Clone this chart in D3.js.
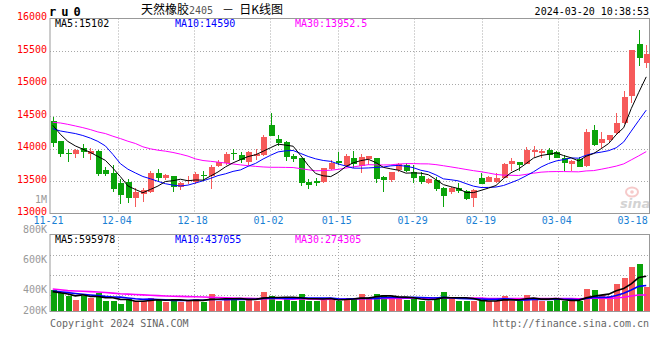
<!DOCTYPE html>
<html>
<head>
<meta charset="utf-8">
<script src="https://cdn.jsdelivr.net/npm/d3@7"></script>
<style>
  body { margin: 0; background: #fff; }
  svg text { font-family: "DejaVu Sans Mono", monospace; font-size: 10px; }
</style>
</head>
<body>
<svg id="chart" width="660" height="360"></svg>
<script>
// trading days shown, 11-21 .. 03-20
var dates = ["11-21","11-22","11-23","11-24","11-27","11-28","11-29","11-30","12-01",
  "12-04","12-05","12-06","12-07","12-08","12-11","12-12","12-13","12-14","12-15",
  "12-18","12-19","12-20","12-21","12-22","12-25","12-26","12-27","12-28","12-29",
  "01-02","01-03","01-04","01-05","01-08","01-09","01-10","01-11","01-12",
  "01-15","01-16","01-17","01-18","01-19","01-22","01-23","01-24","01-25","01-26",
  "01-29","01-30","01-31","02-01","02-02","02-05","02-06","02-07","02-08",
  "02-19","02-20","02-21","02-22","02-23","02-26","02-27","02-28","02-29","03-01",
  "03-04","03-05","03-06","03-07","03-08","03-11","03-12","03-13","03-14","03-15",
  "03-18","03-19","03-20"];

var openP = [14418,14112,13934,13923,14005,13913,13964,13668,13622,13470,13490,13245,13301,13337,13628,13551,13577,13403,13495,13490,
  13592,13577,13735,13770,13934,13893,13786,13888,13898,14357,14153,14102,13883,13847,13490,13500,13480,13684,13806,13735,
  13857,13735,13842,13847,13556,13515,13668,13740,13633,13577,13475,13515,13388,13327,13388,13347,13245,13541,13490,13480,
  13551,13756,13792,13761,13946,13936,13977,13951,13858,13761,13833,13730,14285,14080,14131,14233,14397,14808,15608,15320];
var highP = [14485,14120,14000,14000,14066,14010,13970,13719,13740,13526,13526,13388,13388,13658,13689,13607,13580,13490,13577,13643,
  13658,13740,13821,13949,14000,13949,13964,13990,14204,14546,14214,14112,13923,13857,13526,13541,13704,13821,13949,13913,
  13959,13923,13883,13857,13577,13643,13781,13770,13745,13643,13541,13567,13413,13413,13464,13362,13378,13628,13577,13617,
  13780,13858,13800,14028,14038,14000,14002,13960,13900,13823,13874,14295,14361,14259,14208,14540,14890,15515,15823,15592];
var lowP = [14025,13872,13796,13857,13847,13821,13582,13577,13332,13143,13158,13107,13184,13322,13485,13515,13337,13362,13454,13454,
  13505,13373,13709,13745,13821,13780,13745,13821,13888,14194,14041,13806,13796,13429,13373,13424,13464,13668,13745,13719,
  13694,13628,13745,13464,13337,13490,13633,13643,13464,13454,13454,13352,13107,13301,13322,13209,13107,13454,13480,13464,
  13540,13653,13660,13761,13874,13850,13823,13848,13653,13653,13720,13720,14038,14002,14100,14208,14382,14705,15269,15245];
var closeP = [14087,13918,13908,13974,13939,13959,13612,13607,13378,13286,13235,13337,13362,13628,13546,13587,13403,13470,13515,13607,
  13572,13714,13786,13913,13913,13821,13949,13923,14178,14194,14092,13872,13837,13464,13439,13464,13694,13781,13781,13883,
  13760,13862,13883,13531,13515,13643,13760,13658,13551,13490,13526,13378,13276,13388,13352,13225,13362,13454,13561,13551,
  13761,13807,13741,13977,13977,13961,13900,13848,13771,13807,13720,14259,14054,14146,14208,14397,14797,15515,15397,15454];

// volume, thousands of lots
var volume = [361,315,263,189,258,218,315,172,172,120,206,172,172,229,189,160,212,160,172,212,
  160,292,172,218,212,172,224,172,327,258,172,246,172,292,172,172,224,206,172,206,
  224,298,206,292,275,229,206,189,229,172,172,246,327,224,172,172,172,172,172,172,
  263,172,172,275,229,172,172,224,172,172,172,384,361,270,258,464,573,762,808,418];

var ma5 = [14357,14220,14110,14040,13990,13940,13878,13818,13699,13568,13424,13369,13320,13370,13422,13492,13505,13527,13504,13516,
  13513,13576,13639,13718,13780,13829,13876,13904,13957,14013,14067,14052,14035,13892,13741,13615,13580,13568,13632,13721,
  13780,13813,13834,13784,13710,13687,13666,13621,13625,13620,13597,13521,13444,13412,13384,13324,13321,13356,13391,13431,
  13538,13627,13684,13767,13853,13893,13911,13933,13891,13857,13809,13881,13922,13997,14077,14213,14320,14613,14863,15102];
var ma10 = [14306,14270,14250,14230,14200,14160,14110,14040,13910,13767,13682,13624,13569,13534,13495,13458,13437,13423,13437,13469,
  13503,13540,13583,13611,13648,13671,13726,13771,13838,13896,13948,13964,13969,13924,13877,13841,13816,13802,13762,13731,
  13698,13697,13701,13708,13715,13733,13740,13728,13705,13665,13642,13594,13533,13519,13502,13460,13421,13400,13401,13407,
  13431,13474,13520,13579,13642,13715,13769,13808,13829,13855,13851,13896,13927,13944,13967,14011,14101,14267,14430,14590];
var ma30 = [14403,14393,14372,14347,14321,14291,14255,14230,14189,14153,14112,14077,14026,13995,13974,13959,13939,13913,13883,13840,
  13815,13803,13790,13776,13762,13748,13735,13725,13716,13711,13711,13709,13707,13690,13673,13657,13660,13666,13679,13699,
  13717,13734,13751,13748,13747,13749,13761,13767,13768,13764,13763,13752,13735,13717,13698,13678,13659,13643,13623,13601,
  13590,13588,13585,13602,13620,13636,13643,13645,13645,13643,13641,13655,13660,13681,13704,13729,13763,13825,13887,13952];

var volMa5 = [332,312,292,260,277,249,249,230,227,199,197,168,168,180,194,184,192,190,179,183,
  183,199,202,211,211,213,200,200,221,231,231,235,235,228,211,211,206,213,189,196,
  206,221,221,245,259,260,242,238,226,205,194,202,229,228,228,228,213,182,172,172,
  190,190,190,211,222,204,204,214,194,182,182,225,252,272,289,347,385,465,573,596];
var volMa10 = [344,330,315,300,287,275,264,250,240,238,223,209,199,203,197,191,180,179,179,188,
  184,196,196,195,197,198,199,201,216,221,222,217,217,225,221,221,221,224,209,203,
  209,214,217,217,228,233,231,230,235,232,227,222,234,227,217,211,208,206,200,200,
  209,202,186,191,197,197,197,202,202,202,193,214,233,233,236,265,305,359,422,437];
var volMa30 = [378,364,350,344,338,332,327,317,307,297,290,283,276,269,263,258,254,250,247,243,
  239,235,231,226,222,219,216,214,213,216,210,207,204,208,205,203,200,202,202,204,
  205,209,210,212,215,218,217,218,220,219,219,218,223,223,222,222,220,220,215,212,
  215,213,213,212,214,214,212,213,213,212,210,213,218,218,217,225,237,256,275,274];

var priceTicks = [13000, 13500, 14000, 14500, 15000, 15500, 16000];
var dateTicks = ["11-21","12-04","12-18","01-02","01-15","01-29","02-19","03-04","03-18"];
var volTicks = [1000, 800, 600, 400, 200];
var volTickText = ["1M", "800K", "600K", "400K", "200K"];

var RED = "#f65a5a", GREEN = "#0aa30a";

var svg = d3.select("#chart");
var left = 50, right = 649.5;
var mainTop = 18.5, mainBottom = 213.5, volTop = 234, volBottom = 311;

var x = d3.scaleBand().domain(dates).range([49, 650]);
var xg = d3.scalePoint().domain(dates).range([50, 649.3]);   // grid / labels sit on this one
var y = d3.scaleLinear().domain([13000, 16000]).range([mainBottom, mainTop]);
var yv = d3.scaleLinear().domain([0, 1320]).range([volBottom, volTop]);
var yvLabel = d3.scaleLinear().domain([0, 1000]).range([353.3, 203.3]);

function cx(i) { return x(dates[i]) + x.bandwidth() / 2; }
function up(i) { return closeP[i] >= openP[i]; }

// grid
var grid = svg.append("g").attr("stroke", "#a8a8a8").attr("stroke-dasharray", "1,2");
grid.selectAll(".hg").data(priceTicks.slice(1, -1)).enter().append("line")
  .attr("x1", left).attr("x2", right)
  .attr("y1", function(d) { return Math.round(y(d)) + 0.5; })
  .attr("y2", function(d) { return Math.round(y(d)) + 0.5; });
grid.selectAll(".vg").data(dateTicks.slice(1, -1)).enter().append("line")
  .attr("x1", function(d) { return Math.round(xg(d)) + 0.5; })
  .attr("x2", function(d) { return Math.round(xg(d)) + 0.5; })
  .attr("y1", mainTop).attr("y2", mainBottom);
grid.selectAll(".vg2").data(dateTicks.slice(1, -1)).enter().append("line")
  .attr("x1", function(d) { return Math.round(xg(d)) + 0.5; })
  .attr("x2", function(d) { return Math.round(xg(d)) + 0.5; })
  .attr("y1", volTop).attr("y2", volBottom);
grid.selectAll(".vh").data([0.27, 0.53, 0.79]).enter().append("line")
  .attr("x1", left).attr("x2", right)
  .attr("y1", function(f) { return Math.round(volTop + f * (volBottom - volTop)) + 0.5; })
  .attr("y2", function(f) { return Math.round(volTop + f * (volBottom - volTop)) + 0.5; });

// frames
svg.append("rect").attr("x", left).attr("y", mainTop).attr("width", right - left)
  .attr("height", mainBottom - mainTop).attr("fill", "none").attr("stroke", "#999");
svg.append("rect").attr("x", left).attr("y", volTop + 0.5).attr("width", right - left)
  .attr("height", volBottom - volTop).attr("fill", "none").attr("stroke", "#999");

// price axis labels
svg.selectAll(".py").data(priceTicks).enter().append("text")
  .attr("x", 47).attr("y", function(d) { return y(d) + 1.5; })
  .attr("text-anchor", "end").attr("fill", "#f00").text(function(d) { return d; });

// date labels
svg.selectAll(".dx").data(dateTicks).enter().append("text")
  .attr("x", function(d) { return xg(d) - 1.5; }).attr("y", 223.8)
  .attr("text-anchor", "middle").attr("fill", "#1a7fd4").text(function(d) { return d; });

// volume axis labels
svg.selectAll(".vy").data(volTicks).enter().append("text")
  .attr("x", 47).attr("y", function(d) { return Math.min(yvLabel(d), 314.3); })
  .attr("text-anchor", "end").attr("fill", "#999")
  .text(function(d, i) { return volTickText[i]; });

// watermark
var wm = svg.append("g").attr("opacity", 0.55);
wm.append("ellipse").attr("cx", 632).attr("cy", 192).attr("rx", 6).attr("ry", 4.5)
  .attr("fill", "none").attr("stroke", "#f0a0a0").attr("stroke-width", 2);
wm.append("circle").attr("cx", 632).attr("cy", 192).attr("r", 1.8).attr("fill", "#f0a0a0");
wm.append("text").attr("x", 620).attr("y", 208).attr("fill", "#b0b0b0")
  .style("font-family", "DejaVu Sans").style("font-size", "13px")
  .style("font-weight", "bold").style("font-style", "italic").text("sina");

// candles
var idx = d3.range(dates.length);
var candles = svg.append("g").attr("shape-rendering", "crispEdges");
candles.selectAll(".wick").data(idx).enter().append("line")
  .attr("x1", function(i) { return Math.round(cx(i)) + 0.5; })
  .attr("x2", function(i) { return Math.round(cx(i)) + 0.5; })
  .attr("y1", function(i) { return y(highP[i]); })
  .attr("y2", function(i) { return y(lowP[i]); })
  .attr("stroke", function(i) { return up(i) ? RED : GREEN; });
candles.selectAll(".body").data(idx).enter().append("rect")
  .attr("x", function(i) { return Math.round(cx(i)) - 2.5; })
  .attr("width", 6)
  .attr("y", function(i) { return y(Math.max(openP[i], closeP[i])); })
  .attr("height", function(i) { return Math.max(1, Math.abs(y(openP[i]) - y(closeP[i]))); })
  .attr("fill", function(i) { return up(i) ? RED : GREEN; });

// moving averages
var line = d3.line().x(function(d, i) { return cx(i); }).y(function(d) { return y(d); });
[[ma30, "#f0f"], [ma10, "#00f"], [ma5, "#000"]].forEach(function(s) {
  svg.append("path").attr("d", line(s[0])).attr("fill", "none")
    .attr("stroke", s[1]).attr("stroke-width", 1);
});

// volume bars
svg.append("g").attr("shape-rendering", "crispEdges")
  .selectAll("rect").data(idx).enter().append("rect")
  .attr("x", function(i) { return Math.round(cx(i)) - 2.5; })
  .attr("width", 6)
  .attr("y", function(i) { return yv(volume[i]); })
  .attr("height", function(i) { return volBottom - yv(volume[i]); })
  .attr("fill", function(i) { return up(i) ? RED : GREEN; });

var vline = d3.line().x(function(d, i) { return cx(i); }).y(function(d) { return yv(d); });
[[volMa30, "#f0f"], [volMa10, "#00f"], [volMa5, "#000"]].forEach(function(s) {
  svg.append("path").attr("d", vline(s[0])).attr("fill", "none")
    .attr("stroke", s[1]).attr("stroke-width", 1.6);
});

// legends
function legend(yy, items) {
  items.forEach(function(it, k) {
    svg.append("text").attr("x", 55 + k * 120).attr("y", yy).attr("fill", it[1]).text(it[0]);
  });
}
legend(27.3, [["MA5:15102", "#000"], ["MA10:14590", "#00f"], ["MA30:13952.5", "#f0f"]]);
legend(242.6, [["MA5:595978", "#000"], ["MA10:437055", "#00f"], ["MA30:274305", "#f0f"]]);

// header
svg.append("text").attr("x", 49).attr("y", 16).attr("fill", "#000")
  .style("font-size", "12px").style("font-weight", "bold").style("letter-spacing", "5px")
  .text("ru0");
var title = svg.append("text").attr("x", 141).attr("y", 14).attr("fill", "#000")
  .style("font-family", "'Noto Sans CJK SC', sans-serif").style("font-size", "12px");
title.append("tspan").text("天然橡胶");
title.append("tspan").attr("fill", "#555").style("font-family", "'DejaVu Sans Mono', monospace")
  .style("font-size", "10px").text("2405");
title.append("tspan").attr("dx", 9).text("－");
title.append("tspan").attr("dx", 5).text("日K线图");
svg.append("text").attr("x", 649).attr("y", 15).attr("text-anchor", "end").attr("fill", "#000")
  .text("2024-03-20 10:38:53");

// footer
svg.append("text").attr("x", 50).attr("y", 326.5).attr("fill", "#666").text("Copyright 2024 SINA.COM");
svg.append("text").attr("x", 649).attr("y", 326.5).attr("text-anchor", "end").attr("fill", "#666")
  .text("http://finance.sina.com.cn");
</script>
</body>
</html>
